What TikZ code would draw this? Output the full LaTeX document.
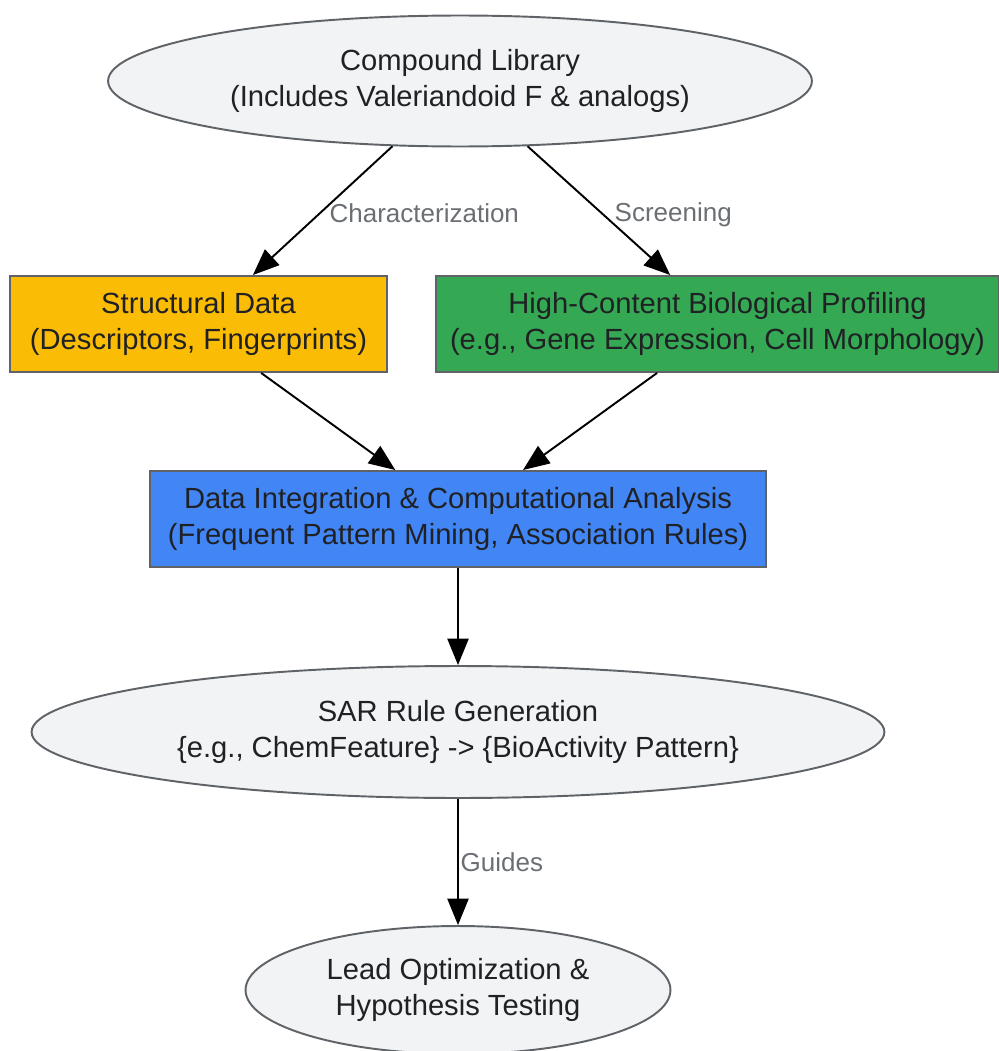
\documentclass[tikz,border=0pt]{standalone}
\usepackage{fontspec}
\setmainfont{Liberation Sans}
\usetikzlibrary{shapes.geometric}
\usetikzlibrary{arrows.meta}
\definecolor{ovalfill}{HTML}{F1F3F4}
\definecolor{rim}{HTML}{5F6368}
\definecolor{txt}{HTML}{202124}
\definecolor{labelgray}{HTML}{6B6F74}
\definecolor{yel}{HTML}{FBBC05}
\definecolor{grn}{HTML}{34A853}
\definecolor{blu}{HTML}{4285F4}
\begin{document}
\begin{tikzpicture}[x=0.02cm,y=-0.02cm,
		oval/.style={ellipse,draw=rim,fill=ovalfill,line width=1.1pt,inner sep=0pt,text=txt,align=center,font=\fontsize{16.6}{20.4}\selectfont},
		box/.style={rectangle,draw=rim,line width=1.1pt,inner sep=2pt,minimum height=1.92cm,text=txt,align=center,font=\fontsize{16.6}{20.4}\selectfont},
		arr/.style={-{Triangle[length=15pt,width=12pt]},line width=1.1pt},
		edgelabel/.style={text=labelgray,font=\fontsize{14.8}{18}\selectfont,anchor=west,inner sep=1pt}]
		\useasboundingbox (0,0) rectangle (999,1051);
		\path (460,81) node(lib)[oval,minimum width=14.08cm,minimum height=2.62cm]{Compound Library\\(Includes Valeriandoid F \& analogs)}
		(198.5,324) node(struct)[box,fill=yel,minimum width=7.54cm]{Structural Data\\(Descriptors, Fingerprints)}
		(717.5,324) node(prof)[box,fill=grn,minimum width=11.26cm]{High-Content Biological Profiling\\(e.g., Gene Expression, Cell Morphology)}
		(458,519) node(integ)[box,fill=blu,minimum width=12.32cm]{Data Integration \& Computational Analysis\\(Frequent Pattern Mining, Association Rules)}
		(458,732) node(sar)[oval,minimum width=17.06cm,minimum height=2.64cm]{SAR Rule Generation\\\{e.g., ChemFeature\} -> \{BioActivity Pattern\}}
		(458,990) node(lead)[oval,minimum width=8.5cm,minimum height=2.56cm]{Lead Optimization \&\\Hypothesis Testing};
		\draw[arr] (lib.224) -- node[edgelabel,pos=0.52,xshift=4pt]{Characterization} (struct.42);
		\draw[arr] (lib.316) -- node[edgelabel,pos=0.53,xshift=5pt]{Screening} (prof.134);
		\draw[arr] (struct.322) -- (integ.142);
		\draw[arr] (prof.219) -- (integ.37);
		\draw[arr] (integ) -- (sar);
		\draw[arr] (sar) -- node[edgelabel]{Guides} (lead);
	\end{tikzpicture}
\end{document}
